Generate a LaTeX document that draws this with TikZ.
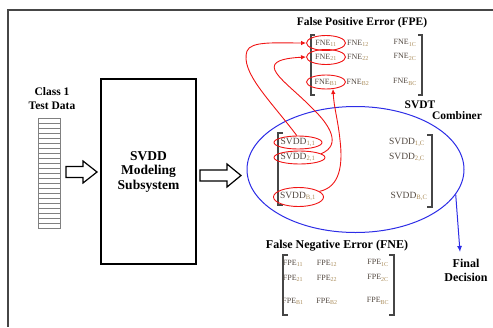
\documentclass[tikz,border=0pt]{standalone}
\usepackage{fontspec}
\setmainfont{Liberation Serif}
\usetikzlibrary{shapes.geometric,arrows.meta}
\definecolor{framegray}{RGB}{70,70,70}
\definecolor{entrycol}{RGB}{80,70,62}
\definecolor{subcol}{RGB}{170,140,90}
\definecolor{ellblue}{RGB}{45,45,230}
\definecolor{redline}{RGB}{240,20,20}
\newcommand{\ent}[2]{#1\textcolor{subcol}{\textsubscript{#2}}}
\tikzset{
  titletext/.style={font=\bfseries\fontsize{11.5}{13}\selectfont, inner sep=0pt},
  fneentry/.style={font=\fontsize{8}{9}\selectfont, text=entrycol, inner sep=0pt},
  svddentry/.style={font=\fontsize{9.5}{10}\selectfont, text=entrycol, inner sep=0pt},
  redell/.style={draw=redline, line width=0.9pt, ellipse, inner sep=0pt},
  redarrow/.style={draw=redline, line width=0.9pt, -{Latex[length=5pt,width=4.5pt]}},
  bracket/.style={draw=framegray, line width=1.1pt},
  hollow/.style={draw=black, line width=1.2pt, fill=white},
}
\begin{document}
\begin{tikzpicture}[x=1pt,y=-1pt]
\useasboundingbox (0,0) rectangle (493,327);
% frame
\draw[line width=1.5pt, framegray] (493,10) -- (8,10) -- (8,327);

% data stack
\draw[gray, line width=0.8pt] (38,118) rectangle (60,228);
\foreach \i in {1,...,21} {
  \draw[gray, line width=0.7pt] (38,118+5*\i) -- (60,118+5*\i);
}
\node[titletext, align=center, font=\bfseries\fontsize{11.5}{14}\selectfont] (cls) at (52,99) {Class 1\\Test Data};

% SVDD box
\node[draw, line width=1.4pt, minimum width=95pt, minimum height=185pt, align=center,
      font=\bfseries\fontsize{13.5}{14.5}\selectfont] (svdd) at (148.5,171.5) {SVDD\\Modeling\\Subsystem};

% hollow arrows
\draw[hollow] (66,166.5) -- (83,166.5) -- (83,161) -- (97,172) -- (83,183) -- (83,177.5) -- (66,177.5) -- cycle;
\draw[hollow] (200,170) -- (227,170) -- (227,164) -- (241,175.5) -- (227,187) -- (227,181) -- (200,181) -- cycle;

% combiner ellipse
\node[ellipse, draw=ellblue, line width=1pt, minimum width=217pt, minimum height=126pt, inner sep=0pt] (comb) at (355.5,169.5) {};
\node[titletext] (svdt) at (420,105) {SVDT};
\node[titletext] (combiner) at (457,116) {Combiner};

% final decision
\coordinate (fd) at (460,252);
\draw[ellblue, line width=1pt, -{Latex[length=6pt,width=5pt]}] (comb.-14) -- (fd);
\node[titletext, align=center, font=\bfseries\fontsize{12}{13.5}\selectfont] (final) at (466,270.5) {Final\\Decision};

% top matrix (FPE)
\node[titletext] (fpetitle) at (362,23) {False Positive Error (FPE)};
\draw[bracket] (315,35) -- (311,35) -- (311,95) -- (315,95);
\draw[bracket] (418,35) -- (422,35) -- (422,95) -- (418,95);
\node[fneentry] (f11) at (326,43) {\ent{FNE}{11}};
\node[fneentry] (f12) at (358,43) {\ent{FNE}{12}};
\node[fneentry] (f1c) at (405,43) {\ent{FNE}{1C}};
\node[fneentry] (f21) at (326,57) {\ent{FNE}{21}};
\node[fneentry] (f22) at (358,57) {\ent{FNE}{22}};
\node[fneentry] (f2c) at (405,57) {\ent{FNE}{2C}};
\node[fneentry] (fb1) at (326,82) {\ent{FNE}{B1}};
\node[fneentry] (fb2) at (358,82) {\ent{FNE}{B2}};
\node[fneentry] (fbc) at (405,82) {\ent{FNE}{BC}};
\node[redell, minimum width=39pt, minimum height=15pt] (e11) at (326,43) {};
\node[redell, minimum width=39pt, minimum height=15pt] (e21) at (326,57) {};
\node[redell, minimum width=39pt, minimum height=14pt] (eb1) at (326,82) {};

% SVDD matrix
\draw[bracket] (283,133) -- (278,133) -- (278,205) -- (283,205);
\draw[bracket] (427,135) -- (432,135) -- (432,207) -- (427,207);
\node[svddentry] (s11) at (298,142.5) {\ent{SVDD}{1,1}};
\node[svddentry] (s21) at (298,157.5) {\ent{SVDD}{2,1}};
\node[svddentry] (sb1) at (298,196.5) {\ent{SVDD}{B,1}};
\node[svddentry] (s1c) at (407,142.5) {\ent{SVDD}{1,C}};
\node[svddentry] (s2c) at (407,157.5) {\ent{SVDD}{2,C}};
\node[svddentry] (sbc) at (409,196.5) {\ent{SVDD}{B,C}};
\node[redell, minimum width=48pt, minimum height=13pt] (r11) at (298,142.5) {};
\node[redell, minimum width=51pt, minimum height=13pt] (r21) at (299.5,157.5) {};
\node[redell, minimum width=50pt, minimum height=19pt] (rb1) at (298.5,197) {};

% red connectors
\draw[redarrow] (r11.100) .. controls (270,100) and (240,72) .. (247,51)
                .. controls (251,41) and (275,43) .. (e11.west);
\draw[redarrow] (r21.10) .. controls (342,145) and (330,125) .. (312,108)
                .. controls (285,80) and (248,60) .. (e21.west);
\draw[redarrow] (rb1.15) .. controls (340,187) and (343,165) .. (340,140)
                .. controls (338,120) and (334,108) .. (eb1.-45);

% bottom matrix (FNE)
\node[titletext, font=\bfseries\fontsize{12}{13}\selectfont] (fnetitle) at (337,246) {False Negative Error (FNE)};
\draw[bracket] (288,255) -- (283,255) -- (283,315) -- (288,315);
\draw[bracket] (389,255) -- (394,255) -- (394,315) -- (389,315);
\node[fneentry] (p11) at (293,263) {\ent{FPE}{11}};
\node[fneentry] (p12) at (327,263) {\ent{FPE}{12}};
\node[fneentry] (p1c) at (378,263) {\ent{FPE}{1C}};
\node[fneentry] (p21) at (293,278) {\ent{FPE}{21}};
\node[fneentry] (p22) at (327,278) {\ent{FPE}{22}};
\node[fneentry] (p2c) at (378,278) {\ent{FPE}{2C}};
\node[fneentry] (pb1) at (293,301) {\ent{FPE}{B1}};
\node[fneentry] (pb2) at (327,301) {\ent{FPE}{B2}};
\node[fneentry] (pbc) at (378,301) {\ent{FPE}{BC}};
\end{tikzpicture}
\end{document}
